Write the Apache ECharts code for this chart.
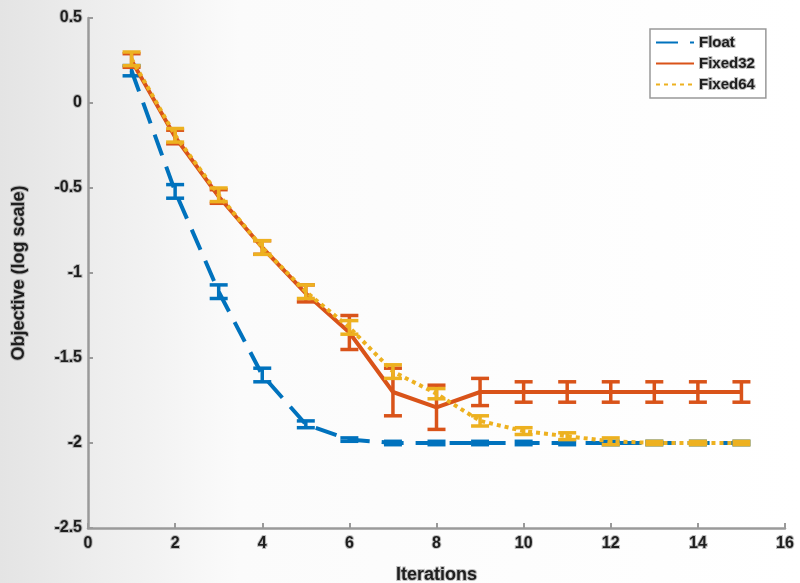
<!DOCTYPE html>
<html>
<head>
<meta charset="utf-8">
<script src="https://cdn.jsdelivr.net/npm/echarts@6/dist/echarts.min.js"></script>
<style>
  html, body { margin: 0; padding: 0; background: #fff; }
  #chart { width: 800px; height: 583px; }
</style>
</head>
<body>
<div id="chart"></div>
<script>
  // iterations and per-series mean / error
  const iterations = [1, 2, 3, 4, 5, 6, 7, 8, 9, 10, 11, 12, 13, 14, 15]
  const floatMean = [0.19, -0.52, -1.11, -1.60, -1.89, -1.98, -2.0, -2.0, -2.0, -2.0, -2.0, -2.0, -2.0, -2.0, -2.0]
  const floatErr = [0.03, 0.04, 0.04, 0.04, 0.02, 0.01, 0.01, 0.01, 0.01, 0.01, 0.01, 0.01, 0.01, 0.01, 0.01]
  const fixed32Mean = [0.25, -0.20, -0.55, -0.85, -1.12, -1.35, -1.70, -1.79, -1.70, -1.70, -1.70, -1.70, -1.70, -1.70, -1.70]
  const fixed32Err = [0.04, 0.04, 0.04, 0.04, 0.05, 0.10, 0.14, 0.13, 0.08, 0.06, 0.06, 0.06, 0.06, 0.06, 0.06]
  const fixed64Mean = [0.26, -0.19, -0.54, -0.85, -1.11, -1.32, -1.58, -1.71, -1.87, -1.93, -1.96, -1.99, -2.0, -2.0, -2.0]
  const fixed64Err = [0.04, 0.04, 0.04, 0.04, 0.04, 0.04, 0.04, 0.03, 0.03, 0.02, 0.02, 0.02, 0.01, 0.01, 0.01]

  const BLUE = '#0072BD'
  const ORANGE = '#D95319'
  const YELLOW = '#EDB120'
  const FONT = "'Liberation Sans Narrow', 'Liberation Sans', Arial, sans-serif"
  const textFx = { color: '#1e1e1e', textBorderColor: 'rgba(150,150,150,0.6)', textBorderWidth: 2 }

  function errData (mean, err) {
    return iterations.map((x, i) => [x, mean[i] - err[i], mean[i] + err[i]])
  }

  function errSeries (name, mean, err, color, z) {
    return {
      name: name,
      type: 'custom',
      z: z,
      data: errData(mean, err),
      encode: { x: 0, y: [1, 2] },
      renderItem: function (params, api) {
        const x = api.value(0)
        const lo = api.coord([x, api.value(1)])
        const hi = api.coord([x, api.value(2)])
        const hw = 9
        const style = { stroke: color, lineWidth: 3.5 }
        return {
          type: 'group',
          children: [
            { type: 'line', shape: { x1: lo[0], y1: lo[1], x2: hi[0], y2: hi[1] }, style: style },
            { type: 'line', shape: { x1: lo[0] - hw, y1: lo[1], x2: lo[0] + hw, y2: lo[1] }, style: style },
            { type: 'line', shape: { x1: hi[0] - hw, y1: hi[1], x2: hi[0] + hw, y2: hi[1] }, style: style }
          ]
        }
      }
    }
  }

  function lineSeries (name, mean, color, dash, z) {
    return {
      name: name,
      type: 'line',
      z: z,
      symbol: 'none',
      data: iterations.map((x, i) => [x, mean[i]]),
      lineStyle: { color: color, width: 4, type: dash, cap: 'butt' },
      itemStyle: { color: color },
      animation: false
    }
  }

  const chart = echarts.init(document.getElementById('chart'))
  chart.setOption({
    animation: false,
    backgroundColor: {
      type: 'linear', x: 0, y: 0, x2: 1, y2: 0,
      colorStops: [
        { offset: 0, color: '#e4e4e4' },
        { offset: 0.3, color: '#fbfbfb' },
        { offset: 1, color: '#ffffff' }
      ]
    },
    grid: { left: 88, right: 15, top: 18, bottom: 55, outerBoundsMode: 'none' },
    legend: {
      data: ['Float', 'Fixed32', 'Fixed64'],
      orient: 'vertical',
      left: 650,
      top: 29,
      itemWidth: 38,
      itemHeight: 12,
      itemGap: 4,
      padding: [5, 10, 5, 5],
      backgroundColor: '#fff',
      borderColor: '#999',
      borderWidth: 1.5,
      itemStyle: { opacity: 0 },
      textStyle: Object.assign({ fontFamily: FONT, fontWeight: 'bold', fontSize: 15 }, textFx)
    },
    xAxis: {
      type: 'value',
      min: 0,
      max: 16,
      interval: 2,
      name: 'Iterations',
      nameLocation: 'middle',
      nameGap: 38,
      nameTextStyle: Object.assign({ fontFamily: FONT, fontWeight: 'bold', fontSize: 18 }, textFx),
      axisLine: { onZero: false, lineStyle: { color: '#9a9a9a', width: 2.5 } },
      axisTick: { inside: true, length: 5, lineStyle: { color: '#9a9a9a', width: 2 } },
      axisLabel: Object.assign({ fontFamily: FONT, fontWeight: 'bold', fontSize: 16, margin: 8 }, textFx),
      splitLine: { show: false }
    },
    yAxis: {
      type: 'value',
      min: -2.5,
      max: 0.5,
      interval: 0.5,
      name: 'Objective (log scale)',
      nameLocation: 'middle',
      nameGap: 60,
      nameTextStyle: Object.assign({ fontFamily: FONT, fontWeight: 'bold', fontSize: 18 }, textFx),
      axisLine: { show: true, onZero: false, lineStyle: { color: '#9a9a9a', width: 2.5 } },
      axisTick: { show: true, inside: true, length: 5, lineStyle: { color: '#9a9a9a', width: 2 } },
      axisLabel: Object.assign({ fontFamily: FONT, fontWeight: 'bold', fontSize: 16, margin: 6 }, textFx),
      splitLine: { show: false }
    },
    series: [
      lineSeries('Float', floatMean, BLUE, [22, 12], 2),
      errSeries('FloatErr', floatMean, floatErr, BLUE, 2),
      lineSeries('Fixed32', fixed32Mean, ORANGE, 'solid', 3),
      errSeries('Fixed32Err', fixed32Mean, fixed32Err, ORANGE, 3),
      lineSeries('Fixed64', fixed64Mean, YELLOW, [4, 4], 4),
      errSeries('Fixed64Err', fixed64Mean, fixed64Err, YELLOW, 4)
    ]
  })
</script>
</body>
</html>
